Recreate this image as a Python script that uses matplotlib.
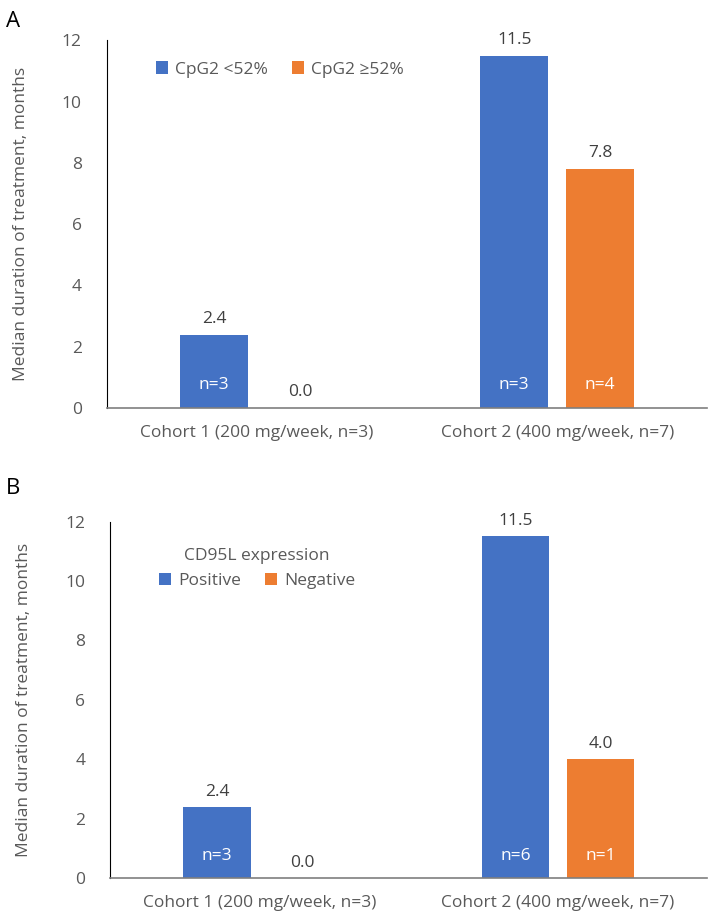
import matplotlib.pyplot as plt
import numpy as np

plt.rcParams['font.family'] = ['Open Sans', 'DejaVu Sans']

cohorts = ['Cohort 1 (200 mg/week, n=3)', 'Cohort 2 (400 mg/week, n=7)']

# panel A: CpG2 methylation
a_labels = ['CpG2 <52%', 'CpG2 \u226552%']
a_low = [2.4, 11.5]
a_high = [0.0, 7.8]
a_n_low = ['n=3', 'n=3']
a_n_high = ['', 'n=4']

# panel B: CD95L expression
b_labels = ['Positive', 'Negative']
b_pos = [2.4, 11.5]
b_neg = [0.0, 4.0]
b_n_pos = ['n=3', 'n=6']
b_n_neg = ['', 'n=1']

BLUE = '#4472C4'
ORANGE = '#ED7D31'
GREY = '#595959'
FS = 12.5

fig = plt.figure(figsize=(7.08, 9.15), dpi=100)
axA = fig.add_axes([0.151, 0.554, 0.848, 0.402])
axB = fig.add_axes([0.156, 0.040, 0.843, 0.390])


def draw(ax, s1, s2, n1, n2, labels, legend_title=None):
    x = np.arange(len(cohorts))
    w = 0.225
    off = 0.143
    b1 = ax.bar(x - off, s1, w, color=BLUE, label=labels[0])
    b2 = ax.bar(x + off, s2, w, color=ORANGE, label=labels[1])
    for bars, vals, ns in [(b1, s1, n1), (b2, s2, n2)]:
        for r, v, n in zip(bars, vals, ns):
            cx = r.get_x() + r.get_width() / 2
            ax.text(cx, v + 0.25, f'{v:.1f}', ha='center', va='bottom',
                    fontsize=FS, color='#404040')
            if n:
                ax.text(cx, 0.75, n, ha='center', va='center',
                        fontsize=FS, color='white')
    ax.set_xlim(-0.5, 1.5)
    ax.set_ylim(0, 12)
    ax.set_yticks(range(0, 13, 2))
    ax.set_xticks(x)
    ax.set_xticklabels(cohorts)
    ax.tick_params(axis='both', length=0, labelsize=FS, labelcolor=GREY)
    ax.tick_params(axis='x', pad=12)
    ax.tick_params(axis='y', pad=18)
    for s in ['top', 'right']:
        ax.spines[s].set_visible(False)
    ax.spines['left'].set_color('black')
    ax.spines['bottom'].set_color('#7f7f7f')
    ax.spines['bottom'].set_linewidth(1.2)
    ax.set_ylabel('Median duration of treatment, months', fontsize=FS,
                  color=GREY, labelpad=24)
    leg = ax.legend(loc='upper left', ncol=2, frameon=False, fontsize=FS,
                    handlelength=0.7, handleheight=0.7, handletextpad=0.4,
                    columnspacing=1.4, title=legend_title,
                    title_fontsize=FS,
                    bbox_to_anchor=(0.055, 0.97) if legend_title else (0.055, 0.985))
    for t in leg.get_texts():
        t.set_color(GREY)
    if legend_title:
        leg.get_title().set_color(GREY)


draw(axA, a_low, a_high, a_n_low, a_n_high, a_labels)
draw(axB, b_pos, b_neg, b_n_pos, b_n_neg, b_labels, 'CD95L expression')

fig.text(0.008, 0.988, 'A', fontsize=16, va='top', color='black')
fig.text(0.008, 0.478, 'B', fontsize=16, va='top', color='black')

fig.savefig('out.png', dpi=100)
